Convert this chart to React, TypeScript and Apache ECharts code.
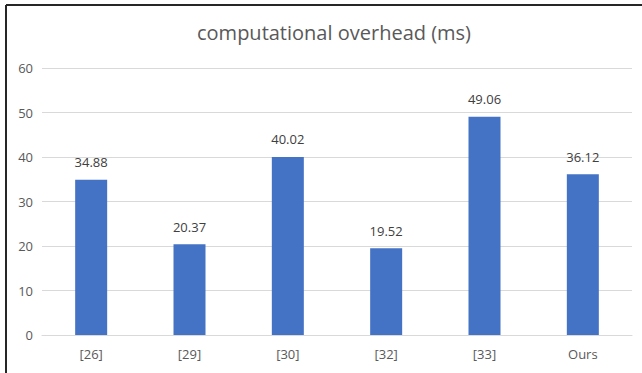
import React, { useEffect, useRef } from "react";
import * as echarts from "echarts";

const categories = ["[26]", "[29]", "[30]", "[32]", "[33]", "Ours"];
const overheadMs = [34.88, 20.37, 40.02, 19.52, 49.06, 36.12];

const FONT = "'Open Sans', 'Noto Sans', sans-serif";

export default function App() {
  const ref = useRef<HTMLDivElement>(null);

  useEffect(() => {
    if (!ref.current) return;
    const chart = echarts.init(ref.current, undefined, { renderer: "svg" });
    chart.setOption({
      animation: false,
      backgroundColor: "#ffffff",
      title: {
        text: "computational overhead (ms)",
        left: 192,
        top: 17,
        textStyle: { fontFamily: FONT, fontSize: 20, fontWeight: "normal", color: "#595959" },
      },
      graphic: [
        { type: "line", shape: { x1: 6, y1: 5, x2: 642, y2: 5 }, style: { stroke: "#262626", lineWidth: 2 } },
        { type: "line", shape: { x1: 6, y1: 5, x2: 6, y2: 373 }, style: { stroke: "#262626", lineWidth: 2 } },
      ],
      grid: { left: 42, right: 10, top: 68, bottom: 38 },
      xAxis: {
        type: "category",
        data: categories,
        axisTick: { show: false },
        axisLine: { lineStyle: { color: "#d9d9d9" } },
        axisLabel: { color: "#595959", fontFamily: FONT, fontSize: 13, margin: 12 },
      },
      yAxis: {
        type: "value",
        min: 0,
        max: 60,
        interval: 10,
        axisLine: { show: false },
        axisTick: { show: false },
        splitLine: { lineStyle: { color: "#d9d9d9" } },
        axisLabel: { color: "#595959", fontFamily: FONT, fontSize: 13, margin: 9 },
      },
      series: [
        {
          type: "bar",
          data: overheadMs,
          barWidth: 32,
          itemStyle: { color: "#4472C4" },
          label: {
            show: true,
            position: "top",
            distance: 11,
            color: "#404040",
            fontFamily: FONT,
            fontSize: 13,
            formatter: (p: any) => p.value.toFixed(2),
          },
        },
      ],
    });
    return () => chart.dispose();
  }, []);

  return (
    <div
      ref={ref}
      style={{ position: "fixed", left: 0, top: 0, width: 642, height: 373 }}
    />
  );
}
